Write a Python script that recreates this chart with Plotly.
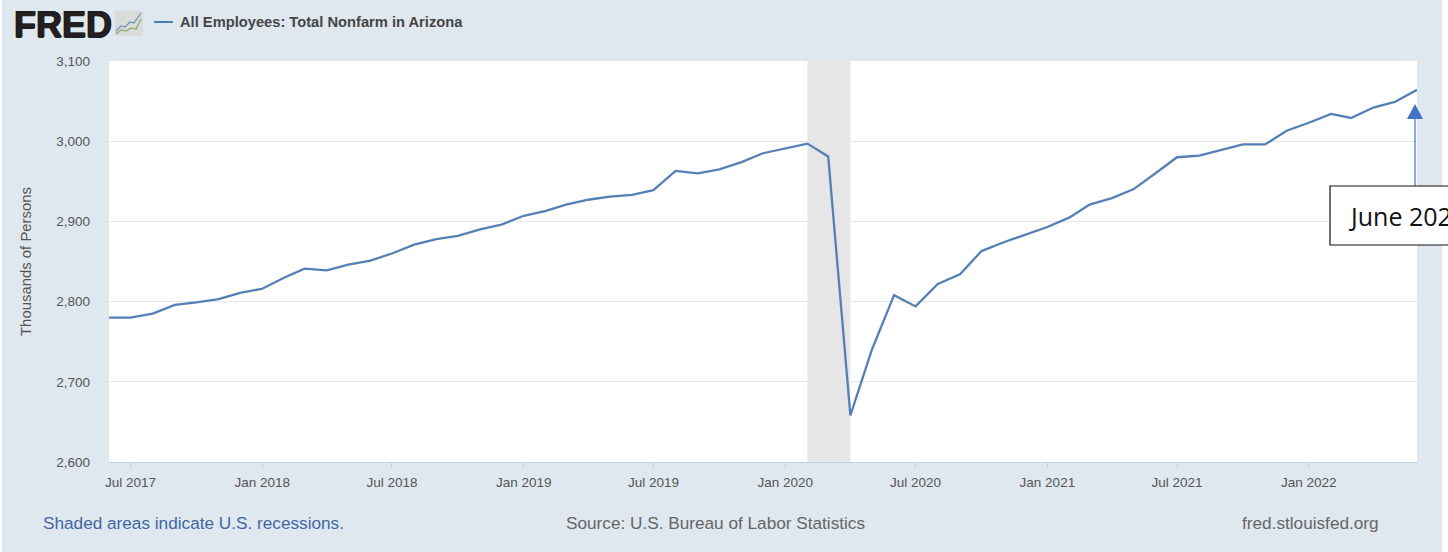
import plotly.graph_objects as go
import pandas as pd

# ---- data ----
series_name = "All Employees: Total Nonfarm in Arizona"
months = pd.date_range("2017-06-01", "2022-06-01", freq="MS").strftime("%Y-%m-%d").tolist()
employees = [
    2780, 2780, 2785, 2796, 2799, 2803, 2811,
    2816, 2830, 2841, 2839, 2846, 2851, 2860, 2871, 2878, 2882, 2890, 2896,
    2907, 2913, 2921, 2927, 2931, 2933, 2939, 2963, 2960, 2965, 2974, 2985,
    2991, 2997, 2981, 2658, 2740, 2808, 2794, 2822, 2834, 2863, 2874, 2883,
    2893, 2905, 2921, 2929, 2940, 2960, 2980, 2982, 2989, 2996, 2996, 3013,
    3023, 3034, 3029, 3042, 3049, 3064,
]
x_tick_dates = ["2017-07-01", "2018-01-01", "2018-07-01", "2019-01-01", "2019-07-01",
                "2020-01-01", "2020-07-01", "2021-01-01", "2021-07-01", "2022-01-01"]
x_tick_labels = ["Jul 2017", "Jan 2018", "Jul 2018", "Jan 2019", "Jul 2019",
                 "Jan 2020", "Jul 2020", "Jan 2021", "Jul 2021", "Jan 2022"]
y_ticks = [2600, 2700, 2800, 2900, 3000, 3100]
y_tick_labels = ["2,600", "2,700", "2,800", "2,900", "3,000", "3,100"]
recession = ("2020-02-01", "2020-04-01")

W, H = 1448, 552
L, R, T, B = 109, 1417, 61, 462
BG = "#dfe7ef"
FONT = "Liberation Sans"


def px(x):
    return (x - L) / (R - L)


def py(y):
    return (B - y) / (B - T)


def pshape(kind, x0, y0, x1, y1, **kw):
    return dict(type=kind, xref="paper", yref="paper", x0=px(x0), x1=px(x1), y0=py(y0), y1=py(y1), **kw)


def ppath(points, **kw):
    d = "M" + " L".join(f"{px(a):.5f},{py(b):.5f}" for a, b in points)
    return dict(type="path", xref="paper", yref="paper", path=d, **kw)


def text(s, x, y, size, color, anchor="left", family=FONT, bold=False, shadow=None):
    font = dict(family=family, size=size, color=color)
    if shadow:
        font["shadow"] = shadow
    return dict(text=f"<b>{s}</b>" if bold else s, xref="paper", yref="paper", x=px(x), y=py(y),
                xanchor=anchor, yanchor="middle", showarrow=False, borderpad=0, borderwidth=0,
                font=font)


fig = go.Figure(go.Scatter(x=months, y=employees, mode="lines", name=series_name,
                           line=dict(color="#5580b5", width=2.3), showlegend=False))

shapes = [
    # white page edges either side of the panel
    pshape("rect", -2, -2, 2, H + 2, fillcolor="white", line_width=0),
    pshape("rect", 1442, -2, W + 2, H + 2, fillcolor="white", line_width=0),
    # recession band
    dict(type="rect", xref="x", yref="paper", x0=recession[0], x1=recession[1],
         y0=0, y1=1, fillcolor="#e6e6e6", line_width=0, layer="below"),
    # legend sample
    pshape("line", 154, 22, 173, 22, line=dict(color="#4f7cb3", width=2)),
    # FRED icon
    pshape("rect", 115, 11, 143, 36, fillcolor="#d9dcd8", line_width=0),
    ppath([(116, 31), (121, 26), (125, 27), (130, 22), (134, 23), (141, 13)],
          line=dict(color="#6f93bd", width=1.2)),
    ppath([(116, 34), (121, 30), (126, 31), (131, 28), (136, 29), (141, 19)],
          line=dict(color="#86a869", width=1.2)),
    # callout arrow and box
    pshape("line", 1415, 187, 1415, 118, line=dict(color="#4472c4", width=1.2)),
    ppath([(1407, 119), (1415, 104), (1423, 119), (1407, 119)], fillcolor="#4472c4", line_width=0),
    pshape("rect", 1330, 186, 1460, 245, fillcolor="white", line=dict(color="#111111", width=1.2)),
]

annotations = [
    text("FRED", 14, 24, 36, "#231f20", bold=True,
         shadow="0.7px 0 0 #231f20, -0.7px 0 0 #231f20, 0 0.5px 0 #231f20, 0 -0.5px 0 #231f20"),
    text(series_name, 180, 22, 14.7, "#444444", bold=True),
    text("Shaded areas indicate U.S. recessions.", 43, 523, 17.2, "#3f68a3"),
    text("Source: U.S. Bureau of Labor Statistics", 566, 523, 17.2, "#666666"),
    text("fred.stlouisfed.org", 1242, 523, 17.2, "#666666"),
    text("June 2022", 1349, 216, 25, "#111111", family="Open Sans"),
]

fig.update_layout(
    width=W, height=H, autosize=False,
    margin=dict(l=L, r=W - R, t=T, b=H - B, pad=0),
    paper_bgcolor=BG, plot_bgcolor="white",
    font=dict(family=FONT, size=13.5, color="#555555"),
    shapes=shapes, annotations=annotations,
    xaxis=dict(type="date", range=["2017-06-01", "2022-06-01"], tickmode="array",
               tickvals=x_tick_dates, ticktext=x_tick_labels, ticks="outside", ticklen=5,
               tickcolor="#c0d0e0", tickwidth=1, showgrid=False, showline=True,
               linecolor="#c0d0e0", linewidth=1, zeroline=False, ticklabelstandoff=3,
               tickfont=dict(size=13.5, color="#555555")),
    yaxis=dict(range=[2600, 3100], tickmode="array", tickvals=y_ticks, ticktext=y_tick_labels,
               showgrid=True, gridcolor="#e6e6e6", gridwidth=1, zeroline=False, showline=False,
               ticks="", ticklabelstandoff=18, tickfont=dict(size=13.5, color="#555555"),
               title=dict(text="Thousands of Persons", standoff=20,
                          font=dict(size=14.9, color="#555555"))),
)

fig.write_html("out.html", post_script="document.body.style.margin='0';document.body.style.overflow='hidden';",
               config=dict(displayModeBar=False))
